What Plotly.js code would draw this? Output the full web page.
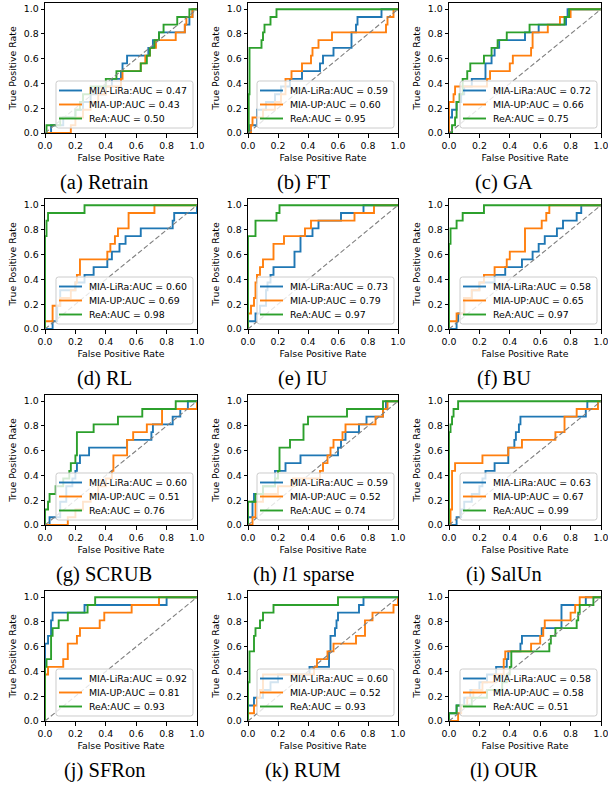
<!DOCTYPE html>
<html>
<head>
<meta charset="utf-8">
<script src="https://cdn.plot.ly/plotly-3.0.1.min.js"></script>
<style>html,body{margin:0;padding:0;background:#fff;overflow:hidden;}#chart{width:620px;height:786px;}</style>
</head>
<body>
<div id="chart"></div>
<script>
// ---------------- DATA ----------------
const panelCaptions = ["(a) Retrain", "(b) FT", "(c) GA", "(d) RL", "(e) IU", "(f) BU",
  "(g) SCRUB", "(h) <i>l</i>1 sparse", "(i) SalUn", "(j) SFRon", "(k) RUM", "(l) OUR"];
const seriesNames = ["MIA-LiRa", "MIA-UP", "ReA"];
const aucLiRa = [0.47, 0.59, 0.72, 0.60, 0.73, 0.58, 0.60, 0.59, 0.63, 0.92, 0.60, 0.58];
const aucUP   = [0.43, 0.60, 0.66, 0.69, 0.79, 0.65, 0.51, 0.52, 0.67, 0.81, 0.52, 0.58];
const aucReA  = [0.50, 0.95, 0.75, 0.98, 0.97, 0.97, 0.76, 0.74, 0.99, 0.93, 0.93, 0.51];
const axisTicks = [0.0, 0.2, 0.4, 0.6, 0.8, 1.0];
const tickLabels = ["0.0", "0.2", "0.4", "0.6", "0.8", "1.0"];
const diagX = [0, 1];
const diagY = [0, 1];

// ROC step points (riser x, top y), one array per panel
const liraFpr = [
  [0, 0.04, 0.12, 0.2, 0.25, 0.3, 0.4, 0.44, 0.5, 0.51, 0.54, 0.68, 0.71, 0.75, 0.92, 0.95, 0.97, 1.0],
  [0, 0.01, 0.06, 0.12, 0.18, 0.22, 0.28, 0.36, 0.48, 0.5, 0.57, 0.69, 0.72, 0.73, 0.89, 1.0],
  [0, 0, 0.02, 0.05, 0.08, 0.1, 0.15, 0.24, 0.28, 0.3, 0.33, 0.5, 0.59, 0.77, 0.78, 1.0],
  [0, 0.05, 0.08, 0.1, 0.2, 0.26, 0.32, 0.41, 0.44, 0.49, 0.53, 0.63, 0.84, 0.85, 1.0, 1.0],
  [0, 0, 0.05, 0.08, 0.12, 0.13, 0.15, 0.17, 0.31, 0.35, 0.43, 0.47, 0.62, 0.77, 1.0],
  [0, 0.05, 0.06, 0.1, 0.15, 0.2, 0.3, 0.37, 0.48, 0.55, 0.59, 0.63, 0.71, 0.75, 0.84, 0.87, 1.0],
  [0, 0.03, 0.1, 0.14, 0.18, 0.2, 0.21, 0.23, 0.29, 0.54, 0.7, 0.71, 0.84, 0.89, 0.94, 1.0],
  [0, 0, 0.03, 0.04, 0.1, 0.18, 0.25, 0.35, 0.6, 0.62, 0.65, 0.74, 0.79, 0.9, 0.92, 1.0],
  [0, 0.05, 0.08, 0.1, 0.15, 0.2, 0.22, 0.24, 0.3, 0.39, 0.43, 0.44, 0.46, 0.47, 0.9, 0.91, 1.0],
  [0, 0, 0.02, 0.04, 0.05, 0.26, 0.8, 1.0],
  [0, 0, 0.04, 0.1, 0.15, 0.2, 0.41, 0.54, 0.55, 0.58, 0.59, 0.6, 0.74, 0.77, 1.0],
  [0, 0, 0.05, 0.1, 0.14, 0.2, 0.25, 0.31, 0.38, 0.39, 0.47, 0.48, 0.61, 0.74, 0.9, 1.0]
];
const liraTpr = [
  [0, 0.0625, 0.125, 0.1875, 0.25, 0.3125, 0.375, 0.4375, 0.5, 0.5625, 0.625, 0.6875, 0.75, 0.8125, 0.875, 0.9375, 1.0, 1.0],
  [0, 0.0625, 0.1875, 0.25, 0.3125, 0.375, 0.4375, 0.5, 0.5625, 0.625, 0.6875, 0.8125, 0.875, 0.9375, 1.0, 1.0],
  [0, 0.125, 0.1875, 0.25, 0.3125, 0.375, 0.4375, 0.5625, 0.625, 0.6875, 0.75, 0.8125, 0.875, 0.9375, 1.0, 1.0],
  [0, 0.0625, 0.1875, 0.3125, 0.375, 0.4375, 0.5, 0.5625, 0.625, 0.6875, 0.75, 0.8125, 0.875, 0.9375, 0.9375, 1.0],
  [0, 0.0625, 0.125, 0.1875, 0.3125, 0.375, 0.4375, 0.5, 0.625, 0.75, 0.8125, 0.875, 0.9375, 1.0, 1.0],
  [0, 0.0625, 0.125, 0.25, 0.3125, 0.375, 0.4375, 0.5, 0.5625, 0.625, 0.6875, 0.75, 0.8125, 0.875, 0.9375, 1.0, 1.0],
  [0, 0.0625, 0.1875, 0.3125, 0.375, 0.4375, 0.5, 0.5625, 0.625, 0.6875, 0.75, 0.8125, 0.875, 0.9375, 1.0, 1.0],
  [0, 0.0625, 0.1875, 0.25, 0.3125, 0.4375, 0.5, 0.5625, 0.625, 0.6875, 0.75, 0.8125, 0.875, 0.9375, 1.0, 1.0],
  [0, 0.0625, 0.125, 0.1875, 0.25, 0.3125, 0.375, 0.4375, 0.5, 0.625, 0.6875, 0.75, 0.8125, 0.875, 0.9375, 1.0, 1.0],
  [0, 0.625, 0.6875, 0.8125, 0.875, 0.9375, 1.0, 1.0],
  [0, 0.125, 0.1875, 0.25, 0.3125, 0.375, 0.4375, 0.5625, 0.6875, 0.75, 0.8125, 0.875, 0.9375, 1.0, 1.0],
  [0, 0.0625, 0.125, 0.1875, 0.25, 0.3125, 0.375, 0.4375, 0.5, 0.5625, 0.625, 0.6875, 0.75, 0.9375, 1.0, 1.0]
];
const upFpr = [
  [0, 0.17, 0.2, 0.25, 0.3, 0.35, 0.4, 0.5, 0.51, 0.63, 0.66, 0.69, 0.73, 0.86, 0.92, 0.93, 0.97, 1.0],
  [0, 0.02, 0.03, 0.1, 0.18, 0.22, 0.25, 0.29, 0.36, 0.42, 0.43, 0.47, 0.56, 0.92, 0.93, 0.97, 1.0],
  [0, 0, 0.03, 0.04, 0.25, 0.27, 0.4, 0.42, 0.54, 0.55, 0.65, 0.73, 0.8, 1.0],
  [0, 0, 0.05, 0.1, 0.17, 0.2, 0.21, 0.23, 0.41, 0.43, 0.46, 0.48, 0.55, 0.72, 1.0],
  [0, 0, 0.02, 0.04, 0.05, 0.06, 0.08, 0.1, 0.17, 0.24, 0.38, 0.42, 0.71, 0.84, 1.0],
  [0, 0, 0.05, 0.1, 0.15, 0.2, 0.23, 0.3, 0.38, 0.4, 0.5, 0.61, 0.64, 0.66, 1.0],
  [0, 0.15, 0.2, 0.25, 0.3, 0.35, 0.4, 0.44, 0.45, 0.54, 0.58, 0.67, 0.77, 1.0],
  [0, 0.03, 0.05, 0.1, 0.2, 0.3, 0.48, 0.5, 0.53, 0.55, 0.57, 0.63, 0.65, 0.85, 0.9, 0.93, 1.0],
  [0, 0.01, 0.02, 0.04, 0.22, 0.39, 0.48, 0.7, 0.76, 0.84, 0.98, 1.0],
  [0, 0, 0.02, 0.12, 0.15, 0.21, 0.23, 0.36, 0.39, 0.57, 0.75, 1.0],
  [0, 0, 0.04, 0.06, 0.08, 0.1, 0.44, 0.46, 0.53, 0.57, 0.72, 0.78, 0.83, 0.97, 1.0],
  [0, 0.06, 0.08, 0.12, 0.16, 0.22, 0.3, 0.36, 0.37, 0.54, 0.6, 0.62, 0.63, 0.8, 0.83, 0.86, 1.0]
];
const upTpr = [
  [0, 0.0625, 0.125, 0.1875, 0.25, 0.3125, 0.375, 0.4375, 0.5, 0.5625, 0.625, 0.6875, 0.75, 0.8125, 0.875, 0.9375, 1.0, 1.0],
  [0, 0.0625, 0.125, 0.1875, 0.25, 0.3125, 0.4375, 0.5, 0.5625, 0.625, 0.6875, 0.75, 0.8125, 0.875, 0.9375, 1.0, 1.0],
  [0, 0.25, 0.3125, 0.375, 0.4375, 0.5, 0.5625, 0.625, 0.6875, 0.8125, 0.875, 0.9375, 1.0, 1.0],
  [0, 0.0625, 0.1875, 0.25, 0.3125, 0.375, 0.4375, 0.5625, 0.625, 0.6875, 0.75, 0.8125, 0.9375, 1.0, 1.0],
  [0, 0.125, 0.1875, 0.25, 0.375, 0.4375, 0.5, 0.5625, 0.6875, 0.75, 0.8125, 0.875, 0.9375, 1.0, 1.0],
  [0, 0.0625, 0.125, 0.25, 0.3125, 0.375, 0.4375, 0.5, 0.5625, 0.625, 0.8125, 0.875, 0.9375, 1.0, 1.0],
  [0, 0.0625, 0.125, 0.1875, 0.25, 0.3125, 0.375, 0.4375, 0.5625, 0.6875, 0.75, 0.8125, 0.9375, 1.0],
  [0, 0.0625, 0.1875, 0.25, 0.3125, 0.375, 0.4375, 0.5, 0.5625, 0.625, 0.6875, 0.75, 0.8125, 0.875, 0.9375, 1.0, 1.0],
  [0, 0.125, 0.4375, 0.5, 0.5625, 0.625, 0.6875, 0.75, 0.875, 0.9375, 1.0, 1.0],
  [0, 0.375, 0.4375, 0.5, 0.625, 0.6875, 0.75, 0.8125, 0.875, 0.9375, 1.0, 1.0],
  [0, 0.0625, 0.125, 0.1875, 0.25, 0.375, 0.4375, 0.5, 0.5625, 0.625, 0.6875, 0.8125, 0.875, 0.9375, 1.0],
  [0, 0.0625, 0.125, 0.1875, 0.25, 0.3125, 0.375, 0.5, 0.5625, 0.625, 0.6875, 0.75, 0.8125, 0.875, 0.9375, 1.0, 1.0]
];
const reaFpr = [
  [0, 0.01, 0.1, 0.2, 0.23, 0.25, 0.3, 0.4, 0.47, 0.63, 0.67, 0.69, 0.72, 0.75, 0.78, 0.87, 0.95, 1.0],
  [0, 0.005, 0.01, 0.09, 0.1, 0.11, 0.15, 0.19, 1.0],
  [0, 0.02, 0.04, 0.05, 0.07, 0.09, 0.12, 0.14, 0.23, 0.28, 0.32, 0.38, 0.53, 0.76, 0.79, 1.0],
  [0, 0, 0.01, 0.02, 0.26, 1.0],
  [0, 0, 0.05, 0.19, 0.21, 1.0],
  [0, 0, 0.01, 0.05, 0.09, 0.23, 1.0],
  [0, 0, 0.02, 0.03, 0.07, 0.12, 0.16, 0.17, 0.2, 0.21, 0.32, 0.48, 0.64, 0.86, 1.0],
  [0, 0, 0.05, 0.1, 0.18, 0.2, 0.21, 0.28, 0.37, 0.4, 0.66, 0.9, 1.0],
  [0, 0, 0.01, 0.02, 0.03, 0.06, 1.0],
  [0, 0, 0.01, 0.04, 0.05, 0.09, 0.15, 0.28, 0.33, 1.0],
  [0, 0, 0.01, 0.04, 0.05, 0.08, 0.1, 0.17, 0.6, 1.0],
  [0, 0, 0.05, 0.15, 0.25, 0.35, 0.38, 0.4, 0.41, 0.66, 0.67, 0.7, 0.84, 0.85, 0.86, 0.95, 1.0]
];
const reaTpr = [
  [0, 0.0625, 0.125, 0.1875, 0.25, 0.3125, 0.375, 0.4375, 0.5, 0.5625, 0.625, 0.6875, 0.75, 0.8125, 0.875, 0.9375, 1.0, 1.0],
  [0, 0.3125, 0.6875, 0.75, 0.8125, 0.875, 0.9375, 1.0, 1.0],
  [0, 0.0625, 0.125, 0.25, 0.3125, 0.4375, 0.5, 0.5625, 0.625, 0.6875, 0.75, 0.8125, 0.875, 0.9375, 1.0, 1.0],
  [0, 0.75, 0.875, 0.9375, 1.0, 1.0],
  [0, 0.75, 0.875, 0.9375, 1.0, 1.0],
  [0, 0.6875, 0.8125, 0.875, 0.9375, 1.0, 1.0],
  [0, 0.125, 0.1875, 0.25, 0.3125, 0.375, 0.4375, 0.5, 0.5625, 0.75, 0.8125, 0.875, 0.9375, 1.0, 1.0],
  [0, 0.1875, 0.25, 0.3125, 0.375, 0.4375, 0.625, 0.6875, 0.8125, 0.875, 0.9375, 1.0, 1.0],
  [0, 0.75, 0.8125, 0.875, 0.9375, 1.0, 1.0],
  [0, 0.4375, 0.5, 0.6875, 0.75, 0.8125, 0.875, 0.9375, 1.0, 1.0],
  [0, 0.3125, 0.5625, 0.6875, 0.75, 0.8125, 0.875, 0.9375, 1.0, 1.0],
  [0, 0.0625, 0.125, 0.1875, 0.25, 0.3125, 0.375, 0.4375, 0.5625, 0.625, 0.6875, 0.75, 0.8125, 0.875, 0.9375, 1.0, 1.0]
];

// ---------------- LAYOUT / STYLE ----------------
// The paper is a little wider than the 608px window so the last "1.0" tick label
// is clipped by the window edge (as in the reference) instead of being hidden.
const W = 620, H = 786;
const colPx = [[45, 197], [248, 398], [449, 601]];
const rowPx = [[3, 133], [199, 329], [395, 525], [591, 721]];
const captionCx = [104, 303, 504];
const colors = ["#1f77b4", "#ff7f0e", "#2ca02c"];
const FS = 9.4;
const tickFont = {family: "DejaVu Sans", size: FS, color: "#000"};
// legend box geometry (px)
const LEG_W = 137, LEG_H = 47, LEG_RIGHT_INSET = 4, LEG_BOTTOM_INSET = 5, LEG_ROW = 14;

const px2x = v => v / W;
const px2y = v => 1 - v / H;

const data = [];
const layout = {
  width: W, height: H,
  margin: {l: 0, r: 0, t: 0, b: 0},
  paper_bgcolor: "#fff", plot_bgcolor: "#fff",
  showlegend: false,
  annotations: [],
  shapes: []
};

function roundedRectPath(x0, y0, x1, y1, rad) {
  const P = (x, y) => px2x(x).toFixed(5) + "," + px2y(y).toFixed(5);
  return "M" + P(x0 + rad, y0) + " L" + P(x1 - rad, y0) + " Q" + P(x1, y0) + " " + P(x1, y0 + rad) +
    " L" + P(x1, y1 - rad) + " Q" + P(x1, y1) + " " + P(x1 - rad, y1) +
    " L" + P(x0 + rad, y1) + " Q" + P(x0, y1) + " " + P(x0, y1 - rad) +
    " L" + P(x0, y0 + rad) + " Q" + P(x0, y0) + " " + P(x0 + rad, y0) + " Z";
}

for (let k = 0; k < 12; k++) {
  const r = Math.floor(k / 3), c = k % 3;
  const sfx = k === 0 ? "" : String(k + 1);
  const xa = "x" + sfx, ya = "y" + sfx;
  const xd = [px2x(colPx[c][0]), px2x(colPx[c][1])];
  const yd = [px2y(rowPx[r][1]), px2y(rowPx[r][0])];

  const common = {
    showline: true, mirror: true, linecolor: "#000", linewidth: 1,
    ticks: "outside", ticklen: 3.5, tickwidth: 1, tickcolor: "#000",
    showgrid: false, zeroline: false, tickfont: tickFont,
    tickvals: axisTicks, ticktext: tickLabels, fixedrange: true,
    ticklabeloverflow: "allow"
  };
  layout["xaxis" + sfx] = Object.assign({}, common, {
    domain: xd, range: [0, 1], anchor: ya,
    title: {text: "False Positive Rate", font: tickFont, standoff: 4}
  });
  layout["yaxis" + sfx] = Object.assign({}, common, {
    domain: yd, range: [0, 1.05], anchor: xa,
    title: {text: "True Positive Rate", font: tickFont, standoff: 5}
  });

  const series = [
    [liraFpr[k], liraTpr[k], seriesNames[0] + ":AUC = " + aucLiRa[k].toFixed(2)],
    [upFpr[k], upTpr[k], seriesNames[1] + ":AUC = " + aucUP[k].toFixed(2)],
    [reaFpr[k], reaTpr[k], seriesNames[2] + ":AUC = " + aucReA[k].toFixed(2)]
  ];
  series.forEach((s, i) => {
    data.push({
      type: "scatter", mode: "lines", x: s[0], y: s[1], name: s[2],
      xaxis: xa, yaxis: ya, hoverinfo: "skip",
      line: {color: colors[i], width: 1.9, shape: "hv"}
    });
  });
  data.push({
    type: "scatter", mode: "lines", x: diagX, y: diagY, name: "chance",
    xaxis: xa, yaxis: ya, hoverinfo: "skip",
    line: {color: "#808080", width: 1.1, dash: "5px,2.5px"}
  });

  // legend box (drawn manually to match the compact matplotlib legend)
  const lx1 = colPx[c][1] - LEG_RIGHT_INSET, lx0 = lx1 - LEG_W;
  const ly1 = rowPx[r][1] - LEG_BOTTOM_INSET, ly0 = ly1 - LEG_H;
  layout.shapes.push({
    type: "path", xref: "paper", yref: "paper", layer: "above",
    path: roundedRectPath(lx0, ly0, lx1, ly1, 2.5),
    fillcolor: "rgba(255,255,255,0.8)", line: {color: "#cccccc", width: 1}
  });
  series.forEach((s, i) => {
    const cy = ly0 + 9.5 + i * LEG_ROW;
    layout.shapes.push({
      type: "line", xref: "paper", yref: "paper", layer: "above",
      x0: px2x(lx0 + 3), x1: px2x(lx0 + 26), y0: px2y(cy), y1: px2y(cy),
      line: {color: colors[i], width: 1.9}
    });
    layout.annotations.push({
      xref: "paper", yref: "paper", x: px2x(lx0 + 30.5), y: px2y(cy),
      xanchor: "left", yanchor: "middle", showarrow: false,
      text: s[2], font: {family: "DejaVu Sans", size: FS, color: "#000"}
    });
  });

  layout.annotations.push({
    xref: "paper", yref: "paper", x: px2x(captionCx[c]), y: px2y(rowPx[r][1] + 49),
    xanchor: "center", yanchor: "middle", showarrow: false,
    text: panelCaptions[k],
    font: {family: "Liberation Serif", size: 20.5, color: "#000"}
  });
}

Plotly.newPlot("chart", data, layout, {staticPlot: true, displayModeBar: false});
</script>
</body>
</html>
